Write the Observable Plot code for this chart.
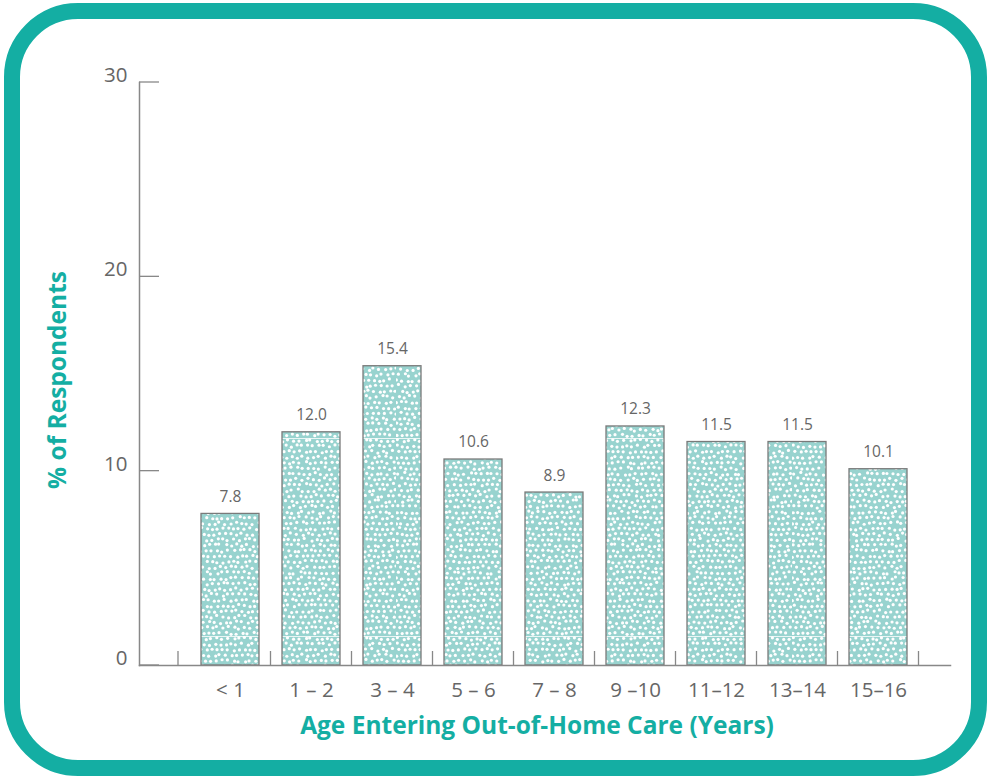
<!DOCTYPE html>
<html>
<head>
<meta charset="utf-8">
<script src="https://cdn.jsdelivr.net/npm/d3@7"></script>
<script src="https://cdn.jsdelivr.net/npm/@observablehq/plot@0.6"></script>
<style>
  html, body { margin: 0; padding: 0; background: #fff; }
  body { width: 990px; height: 778px; position: relative; overflow: hidden; }
  #card {
    position: absolute; left: 4px; top: 3px; width: 983px; height: 773px;
    box-sizing: border-box; border: 16px solid #14aea3; border-radius: 74px;
    pointer-events: none;
  }
  #chart { position: absolute; left: 0; top: 0; }
</style>
</head>
<body>
<div id="chart"></div>
<div id="card"></div>
<script>
// Share of respondents by age when they first entered out-of-home care
const ages = ["< 1", "1 – 2", "3 – 4", "5 – 6", "7 – 8", "9 –10", "11–12", "13–14", "15–16"];
const percents = [7.8, 12.0, 15.4, 10.6, 8.9, 12.3, 11.5, 11.5, 10.1];
const yTicks = [0, 10, 20, 30];
const xTitle = "Age Entering Out-of-Home Care (Years)";
const yTitle = "% of Respondents";

const rows = ages.map((age, i) => ({age, pct: percents[i]}));

const teal = "#14aea3";
const font = "'Open Sans', 'Noto Sans', sans-serif";

// Stippled fill: light teal with an even scatter of small white dots.
function dotPattern() {
  const ns = "http://www.w3.org/2000/svg";
  const defs = document.createElementNS(ns, "defs");
  const pat = document.createElementNS(ns, "pattern");
  const tile = 198;
  pat.setAttribute("id", "dots");
  pat.setAttribute("patternUnits", "userSpaceOnUse");
  pat.setAttribute("x", 0);
  pat.setAttribute("y", 42);
  pat.setAttribute("width", tile);
  pat.setAttribute("height", tile);
  const bg = document.createElementNS(ns, "rect");
  bg.setAttribute("width", tile);
  bg.setAttribute("height", tile);
  bg.setAttribute("fill", "#98d3cf");
  pat.appendChild(bg);
  // deterministic jitter from a small integer hash
  const hash = (a, b) => {
    let h = (a * 374761393 + b * 668265263) | 0;
    h = Math.imul(h ^ (h >>> 13), 1274126177);
    h ^= h >>> 16;
    return (h >>> 0) / 4294967296;
  };
  const n = 36;                // dots per row and rows per tile (staggered)
  const s = tile / n;
  for (let j = 0; j < n; j++) {
    for (let i = 0; i < n; i++) {
      const shift = (j % 2) * 0.5;
      const cx = ((i + 0.5 + shift + (hash(i, j) - 0.5) * 0.5) * s) % tile;
      const cy = (j + 0.5 + (hash(j + 97, i + 31) - 0.5) * 0.5) * s;
      const c = document.createElementNS(ns, "circle");
      c.setAttribute("cx", cx.toFixed(2));
      c.setAttribute("cy", cy.toFixed(2));
      c.setAttribute("r", 1.6);
      c.setAttribute("fill", "#fff");
      pat.appendChild(c);
    }
  }
  const seam = document.createElementNS(ns, "rect");
  seam.setAttribute("width", tile);
  seam.setAttribute("height", 1);
  seam.setAttribute("fill", "#fff");
  seam.setAttribute("fill-opacity", 0.8);
  pat.appendChild(seam);
  defs.appendChild(pat);
  return defs;
}

// Short inward ticks on the y axis line.
function yTickMarks(index, scales, values, dims) {
  const g = d3.create("svg:g").attr("stroke", "#888").attr("stroke-width", 1.3);
  for (const t of yTicks) {
    const y = scales.y(t);
    g.append("line")
      .attr("x1", dims.marginLeft).attr("x2", dims.marginLeft + 20)
      .attr("y1", y).attr("y2", y);
  }
  return g.node();
}

// Upward ticks on the x axis line, between the bars.
function xTickMarks(index, scales, values, dims) {
  const x = scales.scales.x;
  const step = x.step, bw = x.bandwidth;
  const gap = step - bw;
  const y0 = scales.y(0);
  const g = d3.create("svg:g").attr("stroke", "#888").attr("stroke-width", 1.3);
  const first = scales.x(ages[0]);
  const pos = [first - gap, ...ages.map(a => scales.x(a) + bw + gap / 2)];
  for (const p of pos) {
    g.append("line").attr("x1", p).attr("x2", p).attr("y1", y0).attr("y2", y0 - 14);
  }
  return g.node();
}

const chart = Plot.plot({
  width: 990,
  height: 778,
  marginLeft: 139,
  marginRight: 40,
  marginTop: 82,
  marginBottom: 113,
  style: {fontFamily: font, background: "transparent", overflow: "visible"},
  x: {type: "band", domain: ages, paddingInner: 0.285, paddingOuter: 0.641, align: 0.587, label: null},
  y: {domain: [0, 30], label: null},
  marks: [
    () => dotPattern(),
    Plot.barY(rows, {x: "age", y: "pct", fill: "url(#dots)", stroke: "#7a7a7a", strokeWidth: 1.3}),
    Plot.frame({anchor: "left", stroke: "#888", strokeWidth: 1.5}),
    Plot.frame({anchor: "bottom", stroke: "#888", strokeWidth: 1.5}),
    yTickMarks,
    xTickMarks,
    Plot.axisY({ticks: yTicks, tickSize: 0, tickPadding: 12, dy: -7, fontSize: 20.5, color: "#666", label: null}),
    Plot.axisX({tickSize: 0, tickPadding: 17, fontSize: 20.5, color: "#666", label: null}),
    Plot.text(rows, {x: "age", y: "pct", text: d => d.pct.toFixed(1), dy: -17, fontSize: 15.5, fill: "#666"}),
    Plot.text([xTitle], {frameAnchor: "bottom", dy: 68, dx: -8, fontSize: 24.5, fontWeight: "bold", fill: teal}),
    Plot.text([yTitle], {frameAnchor: "left", textAnchor: "middle", dx: -81, dy: 6, rotate: -90, fontSize: 24.5, fontWeight: "bold", fill: teal})
  ]
});

document.getElementById("chart").appendChild(chart);
</script>
</body>
</html>
